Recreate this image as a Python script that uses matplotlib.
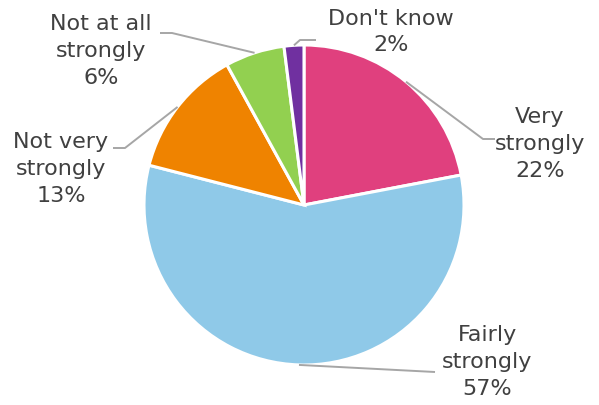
import numpy as np
import matplotlib
matplotlib.use("Agg")
import matplotlib.pyplot as plt

# данные
labels = ["Very\nstrongly", "Fairly\nstrongly", "Not very\nstrongly", "Not at all\nstrongly", "Don't know"]
values = [22, 57, 13, 6, 2]
colors = ["#E0407E", "#8FC9E8", "#EF8300", "#92D050", "#7030A0"]

# пиксели -> координаты данных (центр 304,205; радиус 160 px)
def px(x, y):
    return (x - 304) / 160.0, (205 - y) / 160.0

fig = plt.figure(figsize=(5.99, 4.05), dpi=100)
ax = fig.add_axes([0, 0, 1, 1])
ax.pie(values, colors=colors, startangle=90, counterclock=False, radius=1,
       wedgeprops=dict(edgecolor="white", linewidth=2.2))

# положение подписей и изломы выносок (в пикселях)
text_pos = [(540, 144), (487, 362), (61, 169), (101, 51), (391, 32)]
elbows = [[(483, 139), (495, 139)],
          [(435, 372)],
          [(125, 148), (113, 148)],
          [(172, 33), (160, 33)],
          [(300, 40), (316, 40)]]

total = sum(values)
cum = 0
for lab, v, tp, el in zip(labels, values, text_pos, elbows):
    mid = np.deg2rad(90 - (cum + v / 2) / total * 360)
    cum += v
    pts = [(np.cos(mid), np.sin(mid))] + [px(*p) for p in el]
    xs, ys = zip(*pts)
    ax.plot(xs, ys, color="#A6A6A6", lw=1.4, solid_capstyle="butt")
    tx, ty = px(*tp)
    ax.text(tx, ty, f"{lab}\n{v}%", ha="center", va="center", fontsize=16,
            color="#404040", linespacing=1.42, family="DejaVu Sans")

ax.set_xlim(-304 / 160, (599 - 304) / 160)
ax.set_ylim((205 - 405) / 160, 205 / 160)
ax.set_aspect("auto")
ax.axis("off")

fig.savefig("out.png", dpi=100)
